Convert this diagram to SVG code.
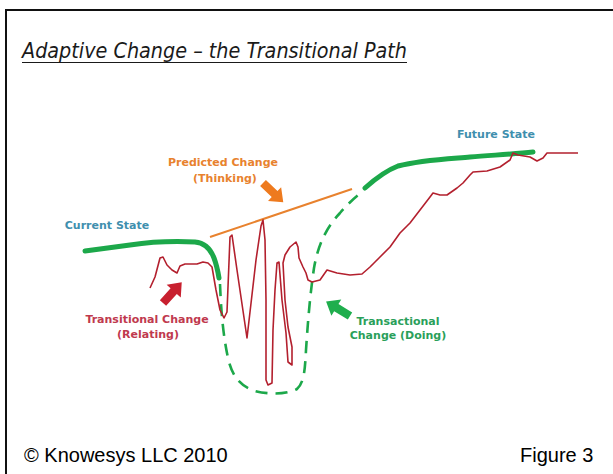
<svg xmlns="http://www.w3.org/2000/svg" width="613" height="474" viewBox="0 0 613 474">
<style>
.lbl{font-family:"DejaVu Sans","Verdana",sans-serif;font-weight:bold;font-size:11px;text-anchor:middle}
.foot{font-family:"Liberation Sans",Arial,sans-serif;font-size:20px;fill:#000}
.title{font-family:"DejaVu Sans",Verdana,sans-serif;font-style:italic;font-size:21.5px;fill:#1a1a1a}
.thick{fill:none;stroke:#1ca84a;stroke-width:5;stroke-linecap:round;stroke-linejoin:round}
.dash{fill:none;stroke:#1ca84a;stroke-width:2.6;stroke-dasharray:12 8}
.red{fill:none;stroke:#b3202e;stroke-width:1.6;stroke-linejoin:round}
</style>
<defs>
<polygon id="arr" points="0,-4.2 16,-4.2 16,-9.5 28,0 16,9.5 16,4.2 0,4.2"/>
</defs>
<rect x="6" y="10" width="620" height="480" fill="#fff" stroke="#111" stroke-width="2"/>
<g id="title">
<text class="title" x="22" y="58" textLength="385" lengthAdjust="spacingAndGlyphs">Adaptive Change – the Transitional Path</text>
<line x1="22" y1="62.5" x2="407" y2="62.5" stroke="#1a1a1a" stroke-width="1.2"/>
</g>
<g id="connectors">
<path class="thick" d="M85,251 C100,249 115,247 130,245 C150,242 175,241 195,242 C205,243 211,250 214,258 C217,266 218,272 219,278"/>
<path class="dash" d="M220,284 C221,310 223,335 228,358 C232,376 240,386 255,391 C270,395 288,394 297,389 C304,383 305,370 306,350 C308,320 310,295 314,268 C318,245 326,228 340,213 C347,205 353,199 362,192"/>
<path class="thick" d="M365,188 C375,179 385,171 398,166 C420,160 445,159 470,157 C495,155 515,154 533,152"/>
<line x1="210" y1="237" x2="352" y2="189" stroke="#e8822e" stroke-width="2"/>
<path class="red" d="M150,288 L155,277 L160,258 L163,257 L167,265 L172,270 L177,273 L180,266 L185,264 L197,264 L203,262 L208,263 L212,267 L216,290 L220,310 L224,318 L227,312 L230,237 L232,235 L237,270 L247,338 L256,260 L261,226 L263,220 L265,240 L266,300 L266,380 L268,385 L272,383 L273,330 L275,290 L277,263 L279,262 L282,300 L286,333 L288,362 L292,365 L292,347 L288,327 L285,300 L283,263 L285,255 L290,247 L296,242 L298,247 L299,258 L303,267 L306,273 L308,280 L312,282 L320,280 L327,270 L337,273 L350,275 L362,274 L370,267 L380,257 L390,247 L400,233 L410,223 L420,210 L430,197 L433,193 L440,195 L447,195 L457,188 L463,183 L470,175 L473,172 L487,171 L500,167 L510,160 L513,153 L518,155 L530,157 L537,161 L543,158 L547,153 L560,153 L578,153"/>
</g>
<g id="predicted">
<text class="lbl" x="223" y="166" fill="#e8822e">Predicted Change</text>
<text class="lbl" x="225" y="182" fill="#e8822e">(Thinking)</text>
<use href="#arr" fill="#ee7a1e" transform="translate(263,183) rotate(43.6)"/>
</g>
<g id="current">
<text class="lbl" x="107" y="229" fill="#3f8fae">Current State</text>
</g>
<g id="future">
<text class="lbl" x="496" y="138" fill="#3f8fae">Future State</text>
</g>
<g id="transitional">
<text class="lbl" x="147" y="323" fill="#c0394e">Transitional Change</text>
<text class="lbl" x="148" y="338" fill="#c0394e">(Relating)</text>
<use href="#arr" fill="#c8202f" transform="translate(163,303) rotate(-48)"/>
</g>
<g id="transactional">
<text class="lbl" x="398" y="325" fill="#2a9f5a">Transactional</text>
<text class="lbl" x="398" y="339" fill="#2a9f5a">Change (Doing)</text>
<use href="#arr" fill="#1fae4d" transform="translate(350,316) rotate(-148.7)"/>
</g>
<g id="footer">
<text class="foot" x="24" y="462">© Knowesys LLC 2010</text>
<text class="foot" x="520" y="462">Figure 3</text>
</g>
</svg>
